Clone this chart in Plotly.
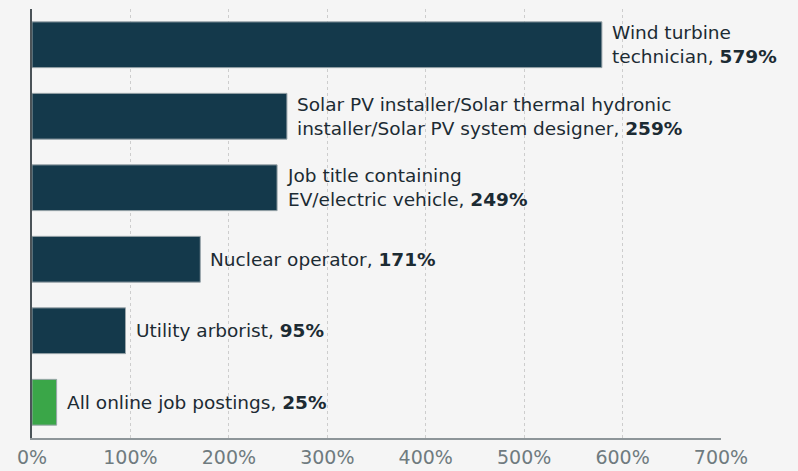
import plotly.graph_objects as go

categories = [
    "Wind turbine<br>technician",
    "Solar PV installer/Solar thermal hydronic<br>installer/Solar PV system designer",
    "Job title containing<br>EV/electric vehicle",
    "Nuclear operator",
    "Utility arborist",
    "All online job postings",
]
values = [579, 259, 249, 171, 95, 25]
colors = ["#14394b", "#14394b", "#14394b", "#14394b", "#14394b", "#3aa648"]
tick_vals = [0, 100, 200, 300, 400, 500, 600, 700]
tick_text = ["0%", "100%", "200%", "300%", "400%", "500%", "600%", "700%"]

FONT = "DejaVu Sans"
ypos = list(range(len(categories)))

fig = go.Figure()
fig.add_trace(go.Bar(
    x=values, y=ypos, orientation="h",
    marker=dict(color=colors, line=dict(color="#9aa5aa", width=1)),
    width=0.64, hoverinfo="skip",
))

for c, v, y in zip(categories, values, ypos):
    fig.add_annotation(
        x=v, y=y, xref="x", yref="y",
        text=f"{c}, <b>{v}%</b>",
        showarrow=False, xanchor="left", yanchor="middle", align="left",
        xshift=8,
        font=dict(family=FONT, size=18.5, color="#1c2b33"),
    )

fig.update_layout(
    width=798, height=471,
    margin=dict(l=32, r=77, t=9, b=33, autoexpand=False),
    paper_bgcolor="#f5f5f5", plot_bgcolor="#f5f5f5",
    showlegend=False,
    bargap=0.36,
    xaxis=dict(
        range=[0, 700], tickvals=tick_vals, ticktext=tick_text,
        showgrid=True, gridcolor="#cdcdcd", griddash="dot", gridwidth=1,
        showline=True, linecolor="#8d9599", linewidth=2,
        zeroline=False, ticks="", automargin=False, ticklabelstandoff=1,
        tickfont=dict(family=FONT, size=19, color="#6f7b7f"),
    ),
    yaxis=dict(
        range=[5.5, -0.5], showticklabels=False, showgrid=False,
        showline=True, linecolor="#4a5358", linewidth=2, zeroline=False,
        automargin=False,
    ),
)

fig.write_html(
    "out.html",
    config={"displayModeBar": False},
    post_script="document.body.style.margin='0';document.body.style.background='#f5f5f5';",
)
